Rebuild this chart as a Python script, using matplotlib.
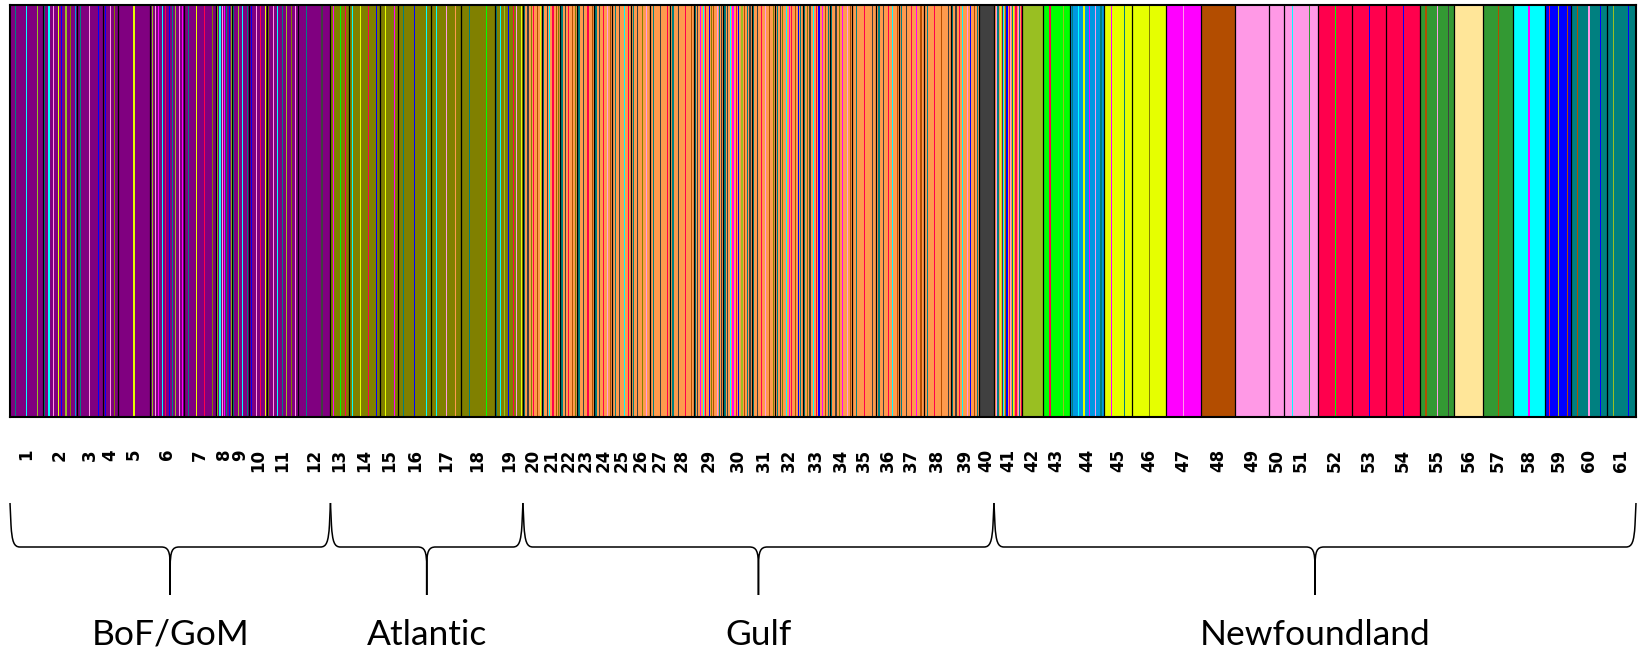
import numpy as np
import matplotlib
matplotlib.use("Agg")
import matplotlib.pyplot as plt
from matplotlib.path import Path
from matplotlib.patches import PathPatch
import matplotlib.transforms as mtransforms

# ---------------- data ----------------
cluster_colors = {
    "pur": "#800080", "oli": "#808000", "ora": "#FF9A4D", "dgy": "#404040",
    "ygr": "#99BF22", "grn": "#00FF00", "blu": "#0099E0", "yel": "#E6FF00",
    "mag": "#FF00FF", "brn": "#B34D00", "pnk": "#FF99E6", "red": "#FF004D",
    "dgr": "#339933", "bei": "#FFE699", "cya": "#00FFFF", "dbl": "#0000FF",
    "tea": "#008080",
}

pop_labels = [str(i) for i in range(1, 62)]

sample_sizes = [29, 30, 23, 13, 29, 30, 28, 14, 15, 16, 27, 29,
                16, 28, 16, 29, 26, 30, 25,
                17, 16, 15, 15, 16, 16, 17, 18, 21, 26, 25, 21, 24, 24, 20, 21, 20, 22, 24, 25, 13,
                25, 18, 24, 30, 25, 30, 31, 30, 30, 13, 30, 30, 30, 30, 30, 26, 26, 29, 23, 31, 26]

dominant = (["pur"] * 12 + ["oli"] * 7 + ["ora"] * 20 + ["dgy"] +
            ["ora", "ygr", "grn", "blu", "yel", "yel", "mag", "brn", "pnk", "pnk", "pnk",
             "red", "red", "red", "dgr", "bei", "dgr", "cya", "dbl", "tea", "tea"])

# approximate share (%) of individuals assigned mainly to minor clusters
admixture = [
    {"tea": 4, "cya": 3, "ygr": 3, "oli": 2},
    {"tea": 5, "cya": 4, "pnk": 4, "yel": 3, "dbl": 3, "ygr": 3, "oli": 3, "blu": 2},
    {"tea": 4, "pnk": 3, "dbl": 3, "yel": 2, "blu": 3},
    {"dbl": 5, "pnk": 5, "oli": 5, "tea": 5},
    {"yel": 3},
    {"ygr": 6, "pnk": 6, "mag": 5, "cya": 5, "red": 4, "dbl": 4, "tea": 5},
    {"tea": 5, "yel": 4, "red": 3, "oli": 3},
    {"ygr": 8, "cya": 8, "pnk": 8, "mag": 8, "tea": 8, "dbl": 8},
    {"tea": 8, "ygr": 8, "cya": 8},
    {"dbl": 7, "pnk": 7, "red": 7, "yel": 7},
    {"oli": 6, "pnk": 6, "cya": 5, "tea": 5, "ygr": 4},
    {"tea": 4, "dgy": 4},
    {"mag": 5, "grn": 5, "red": 5, "tea": 5},
    {"cya": 3, "yel": 3, "red": 3, "dbl": 3, "tea": 3},
    {"yel": 5, "mag": 5, "tea": 5},
    {"tea": 3, "dbl": 3, "cya": 3, "mag": 3},
    {"cya": 4, "pnk": 3, "ora": 3, "tea": 3},
    {"tea": 3, "grn": 3},
    {"tea": 5, "cya": 4, "ygr": 4, "dbl": 4, "red": 4, "pnk": 4, "yel": 4},
    {"tea": 7, "dgy": 6, "oli": 5, "red": 4, "brn": 4, "yel": 3, "cya": 3, "grn": 3, "dbl": 3},
    {"tea": 7, "dgy": 6, "cya": 4, "red": 4, "brn": 4, "mag": 3, "oli": 4, "pnk": 3},
    {"tea": 6, "dgy": 6, "red": 5, "brn": 4, "cya": 3, "oli": 4, "ygr": 4},
    {"tea": 7, "dgy": 5, "mag": 3, "red": 4, "brn": 4, "yel": 3, "oli": 4},
    {"tea": 6, "dgy": 6, "red": 4, "pnk": 3, "dbl": 3, "brn": 4, "yel": 3},
    {"tea": 6, "dgy": 6, "cya": 4, "red": 4, "mag": 3, "brn": 4},
    {"tea": 6, "dgy": 5, "oli": 4, "pnk": 3, "red": 3, "ygr": 3},
    {"tea": 5, "dgy": 4, "red": 3, "brn": 3, "yel": 2},
    {"tea": 5, "dgy": 4, "red": 3, "brn": 3, "grn": 2},
    {"tea": 7, "dgy": 7, "mag": 4, "cya": 4, "red": 5, "dbl": 4, "oli": 5, "brn": 4, "pnk": 3},
    {"tea": 7, "dgy": 7, "cya": 4, "mag": 4, "red": 4, "dbl": 4, "ygr": 4, "brn": 4},
    {"tea": 6, "dgy": 6, "red": 4, "pnk": 3, "brn": 4, "oli": 4},
    {"tea": 7, "dgy": 6, "oli": 5, "cya": 4, "mag": 3, "red": 4, "brn": 4, "dbl": 3},
    {"tea": 7, "oli": 6, "dgy": 6, "cya": 3, "red": 4, "dbl": 3, "mag": 3, "brn": 4},
    {"tea": 7, "dgy": 6, "oli": 5, "mag": 4, "pnk": 3, "brn": 4, "red": 3},
    {"tea": 5, "red": 3, "dgy": 4, "brn": 3},
    {"tea": 6, "dgy": 5, "red": 4, "cya": 3, "brn": 3, "yel": 3},
    {"tea": 6, "dgy": 5, "red": 4, "mag": 3, "brn": 4},
    {"tea": 5, "red": 3, "brn": 3, "dgy": 4},
    {"tea": 6, "dgy": 6, "red": 5, "cya": 3, "pnk": 3, "dbl": 4, "brn": 4},
    {},
    {"red": 15, "pnk": 10, "tea": 10, "yel": 6, "dgy": 6, "cya": 5, "oli": 5, "dbl": 3, "mag": 2},
    {"tea": 2},
    {"red": 4, "ygr": 4},
    {"tea": 8, "cya": 4, "yel": 4, "mag": 2, "pnk": 2},
    {"mag": 3, "tea": 3},
    {"oli": 3},
    {"pnk": 3},
    {},
    {},
    {},
    {"cya": 3, "dgr": 3},
    {"grn": 3},
    {"dbl": 3},
    {"dbl": 3},
    {"brn": 3, "pnk": 3, "dgy": 3},
    {},
    {"brn": 3},
    {"mag": 3},
    {"red": 4, "ygr": 4, "brn": 4},
    {"brn": 4, "pnk": 4, "dbl": 3},
    {"ygr": 3, "dbl": 3},
]

regions = ["BoF/GoM", "Atlantic", "Gulf", "Newfoundland"]
region_pop_counts = [12, 7, 21, 21]

# ---------------- helpers ----------------
def individual_colours(n, dom, mix):
    keys = list(mix.keys())
    cols = [dom] * n
    if not keys:
        return cols
    exact = np.array([mix[k] / 100.0 * n for k in keys])
    counts = np.floor(exact).astype(int)
    total = int(round(exact.sum()))
    order = np.argsort(-(exact - counts), kind="stable")
    i = 0
    while counts.sum() < total:
        counts[order[i % len(keys)]] += 1
        i += 1
    pools = [[k] * c for k, c in zip(keys, counts)]
    minor = []
    while any(pools):
        for p in pools:
            if p:
                minor.append(p.pop())
    M = len(minor)
    for j, k in enumerate(minor):
        pos = int((j + 0.5) * n / M)
        cols[min(pos, n - 1)] = k
    return cols


colours = []
for n, dom, mix in zip(sample_sizes, dominant, admixture):
    colours += [cluster_colors[c] for c in individual_colours(n, dom, mix)]

N = len(colours)
bounds = np.concatenate([[0], np.cumsum(sample_sizes)])
centers = (bounds[:-1] + bounds[1:]) / 2

# ---------------- figure ----------------
W, H = 1638, 654
fig = plt.figure(figsize=(W / 100, H / 100), dpi=100)
ax = fig.add_axes([10 / W, (H - 417) / H, (1636 - 10) / W, (417 - 5) / H])

ax.bar(np.arange(N) + 0.5, np.ones(N), width=1.0, color=colours,
       linewidth=0, antialiased=False)
ax.vlines(bounds[1:-1], 0, 1, color="black", linewidth=0.9)

ax.set_xlim(0, N)
ax.set_ylim(0, 1)
ax.set_yticks([])
ax.set_xticks(centers)
ax.set_xticklabels(pop_labels, rotation=90, fontsize=12, fontweight="bold",
                   family="DejaVu Sans")
ax.tick_params(axis="x", length=0, pad=23)
for s in ax.spines.values():
    s.set_linewidth(1.5)
    s.set_color("black")

# ---------------- braces ----------------
px_per_unit = (1636 - 10) / N
trans = mtransforms.blended_transform_factory(ax.transData, fig.transFigure)
yt = (H - 503) / H
yh = (H - 547) / H
yb = (H - 595) / H
py = 1.0 / H


def brace(x0, x1, xm):
    dx = 1.0 / px_per_unit
    verts, codes = [], []
    for s, xe in ((1, x0), (-1, x1)):
        verts += [(xe, yt), (xe + s * 1 * dx, yh + 22 * py),
                  (xe + s * 2 * dx, yh + 5 * py), (xe + s * 4 * dx, yh), (xe + s * 10 * dx, yh),
                  (xm - s * 9 * dx, yh),
                  (xm - s * 2 * dx, yh), (xm, yh - 4 * py), (xm, yh - 20 * py),
                  (xm, yb)]
        codes += [Path.MOVETO, Path.LINETO,
                  Path.CURVE4, Path.CURVE4, Path.CURVE4,
                  Path.LINETO,
                  Path.CURVE4, Path.CURVE4, Path.CURVE4,
                  Path.LINETO]
    patch = PathPatch(Path(verts, codes), transform=trans, facecolor="none",
                      edgecolor="black", linewidth=1.1, clip_on=False)
    fig.patches.append(patch)


start = 0
for name, cnt in zip(regions, region_pop_counts):
    x0 = bounds[start]
    x1 = bounds[start + cnt]
    xm = (x0 + x1) / 2
    brace(x0, x1, xm)
    fig.text(xm, 9 / H, name, transform=trans, ha="center", va="baseline",
             fontsize=25.5, family="Lato")
    start += cnt

fig.savefig("out.png", dpi=100)
